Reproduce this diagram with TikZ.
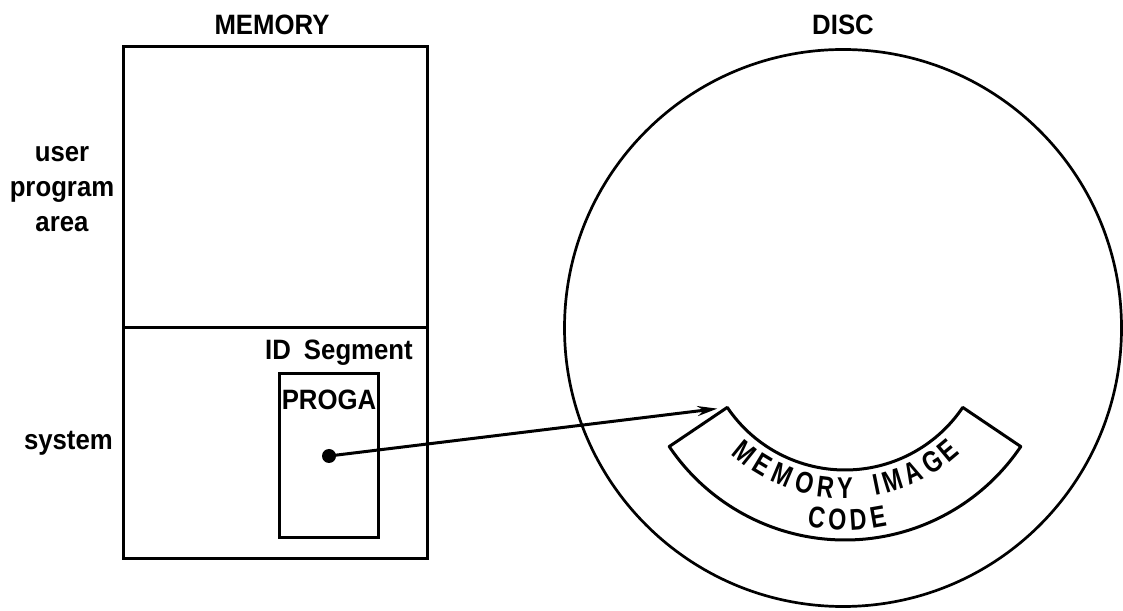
\documentclass[tikz,border=0pt]{standalone}
\usepackage{fontspec}
\setmainfont{Liberation Sans}[FakeStretch=0.92]
\newfontfamily\arcfont{Liberation Sans}[FakeStretch=0.78]
\usetikzlibrary{arrows.meta}
\begin{document}
\begin{tikzpicture}[x=1pt,y=1pt,
  lbl/.style={font=\fontsize{28}{34}\selectfont\bfseries, inner sep=0},
  arclet/.style={font=\arcfont\fontsize{30}{34}\selectfont\bfseries, inner sep=0},
  boxline/.style={line width=3pt},
  discline/.style={line width=2.7pt}]
\useasboundingbox (0,0) rectangle (1123,610);

% titles
\node[lbl, anchor=base] (memt) at (272,575) {MEMORY};
\node[lbl, anchor=base] (disct) at (843,575) {DISC};

% memory box
\node[draw, boxline, minimum width=304, minimum height=512, anchor=south west, inner sep=0] (mem) at (122,50) {};
\coordinate (divl) at (122,282);
\coordinate (divr) at (426,282);
\draw[boxline] (divl) -- (divr);

% side labels
\node[lbl, anchor=base] (u1) at (62,448) {user};
\node[lbl, anchor=base] (u2) at (62,413) {program};
\node[lbl, anchor=base] (u3) at (62,378) {area};
\node[lbl, anchor=base east] (sys) at (113,160) {system};

% ID segment
\node[lbl, anchor=base east] (idl) at (413,250) {ID\hspace{6pt} Segment};
\node[draw, boxline, minimum width=99, minimum height=163, inner sep=0] (proga) at (328.5,154.5) {};
\node[lbl, anchor=base] (progal) at (329,200) {PROGA};
\node[circle, fill, inner sep=0, minimum size=14] (dot) at (329,154) {};

% disc
\node[draw, circle, discline, minimum size=557, inner sep=0] (disc) at (843,282) {};
\coordinate (sc) at (845,282);
\coordinate (corner) at ([shift={(214:142)}]sc);
\draw[boxline, line join=round] (corner) arc[start angle=214, end angle=326, radius=142]
  -- ([shift={(326:212)}]sc) arc[start angle=326, end angle=214, radius=212] -- cycle;

\foreach \ch/\ang [count=\i, evaluate=\ang as \rr using \ang+90] in
  {M/231, E/239, M/247, O/255.5, R/263, Y/270, I/281.5, M/287.5, A/295, G/303, E/310}
  \node[arclet, rotate=\rr] (mi\i) at ([shift={(\ang:160)}]sc) {\ch};
\foreach \ch/\ang [count=\i, evaluate=\ang as \rr using \ang+90] in
  {C/261.5, O/267.7, D/273.9, E/280}
  \node[arclet, rotate=\rr] (cd\i) at ([shift={(\ang:192)}]sc) {\ch};

% arrow
\draw[boxline, -{Stealth[length=20pt, width=10pt]}, shorten >=10pt] (dot.center) -- (corner);
\end{tikzpicture}
\end{document}
